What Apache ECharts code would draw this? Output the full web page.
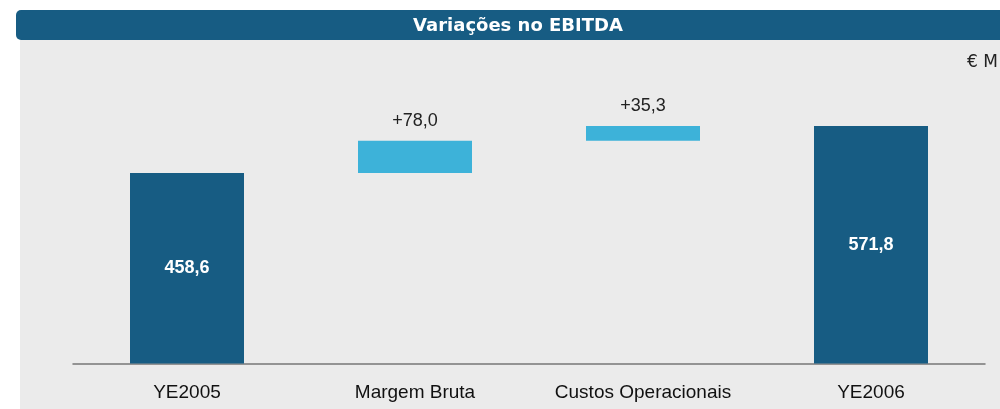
<!DOCTYPE html>
<html>
<head>
<meta charset="utf-8">
<script src="https://cdn.jsdelivr.net/npm/echarts@6/dist/echarts.min.js"></script>
<style>
  html, body { margin: 0; padding: 0; background: #fff; }
  #chart { width: 1000px; height: 409px; }
</style>
</head>
<body>
<div id="chart"></div>
<script>
// data
const categories = ["YE2005", "Margem Bruta", "Custos Operacionais", "YE2006"];
const values = [458.6, 78.0, 35.3, 571.8];
const isTotal = [true, false, false, true];

// invisible base for the floating bars
let running = 0;
const baseData = values.map((v, i) => {
  if (isTotal[i]) { running = v; return 0; }
  const b = running;
  running += v;
  return b;
});

const fmt = (v) => v.toFixed(1).replace(".", ",");

const chart = echarts.init(document.getElementById("chart"));
const option = {
  animation: false,
  graphic: {
    elements: [
      { type: "rect", z: -10, shape: { x: 20, y: 40, width: 990, height: 380 }, style: { fill: "#ebebeb" } },
      { type: "rect", z: -9, shape: { x: 16, y: 10, width: 1000, height: 30, r: 5 }, style: { fill: "#175c83" } },
      { type: "text", z: -8, x: 518, y: 26, style: { text: "Variações no EBITDA", fill: "#fff", font: "bold 18px 'DejaVu Sans'", textAlign: "center", textVerticalAlign: "middle" } },
      { type: "text", z: -8, x: 998, y: 63, style: { text: "€ M", fill: "#222", font: "17px 'DejaVu Sans'", textAlign: "right", textVerticalAlign: "middle" } }
    ]
  },
  grid: { left: 73, right: 15, top: 114.3, bottom: 45.5 },
  xAxis: {
    type: "category",
    data: categories,
    axisTick: { show: false },
    axisLine: { lineStyle: { color: "#777", width: 1.5 } },
    axisLabel: { interval: 0, color: "#111", fontSize: 19, fontFamily: "Liberation Sans", margin: 20 }
  },
  yAxis: {
    type: "value",
    min: 0,
    max: 600,
    show: false,
    splitLine: { show: false }
  },
  series: [
    {
      type: "bar",
      stack: "w",
      barWidth: 114,
      itemStyle: { color: "transparent" },
      emphasis: { disabled: true },
      data: baseData
    },
    {
      type: "bar",
      stack: "w",
      barWidth: 114,
      data: values.map((v, i) => ({
        value: v,
        itemStyle: { color: isTotal[i] ? "#175c83" : "#3db2d9" },
        label: isTotal[i]
          ? { show: true, position: "inside", color: "#fff", fontWeight: "bold", fontSize: 18, fontFamily: "Liberation Sans", formatter: fmt(v) }
          : { show: true, position: "top", distance: 11, color: "#222", fontSize: 18, fontFamily: "Liberation Sans", formatter: "+" + fmt(v) }
      }))
    }
  ]
};
chart.setOption(option);
</script>
</body>
</html>
